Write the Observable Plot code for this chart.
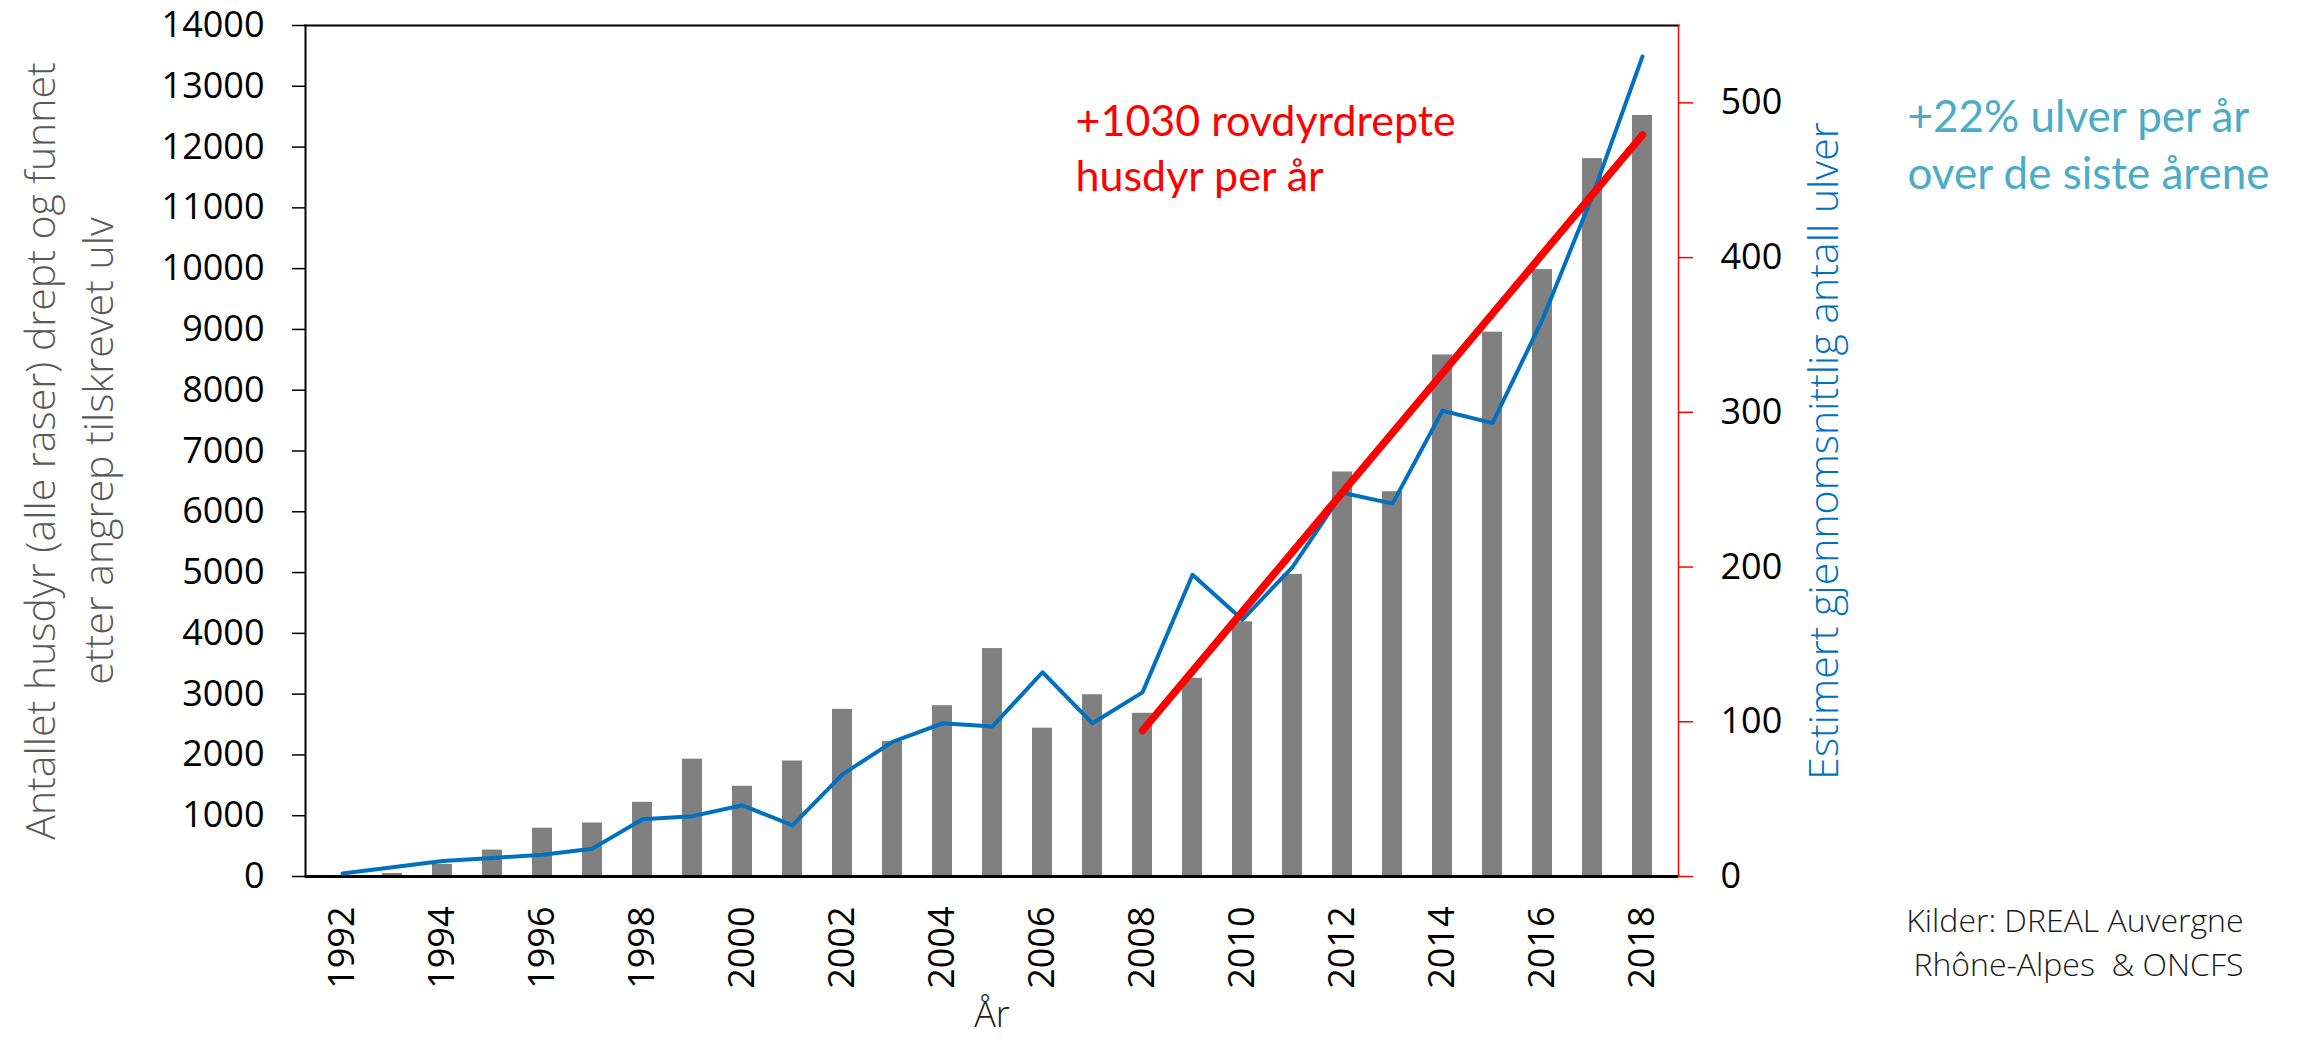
<!DOCTYPE html>
<html>
<head>
<meta charset="utf-8">
<script src="https://cdn.jsdelivr.net/npm/d3@7"></script>
<script src="https://cdn.jsdelivr.net/npm/@observablehq/plot@0.6"></script>
<style>
html, body { margin: 0; padding: 0; background: #fff; }
#chart { width: 2299px; height: 1043px; }
</style>
</head>
<body>
<div id="chart"></div>
<script>
// ---- Data ----
const years = [1992, 1993, 1994, 1995, 1996, 1997, 1998, 1999, 2000, 2001, 2002, 2003, 2004, 2005,
               2006, 2007, 2008, 2009, 2010, 2011, 2012, 2013, 2014, 2015, 2016, 2017, 2018];
// Livestock killed and attributed to wolf (left axis)
const livestockKilled = [0, 50, 200, 435, 795, 880, 1220, 1930, 1485, 1900, 2750, 2220, 2810, 3750,
                         2440, 2990, 2685, 3260, 4190, 4970, 6655, 6330, 8580, 8955, 9985, 11810, 12520];
// Estimated average number of wolves (right axis)
const wolves = [2, 6, 10, 12, 14, 18, 37, 39, 46, 33, 66, 87, 99, 97,
                132, 99, 119, 195, 166, 200, 248, 241, 301, 293, 360, 440, 530];
// Linear trend of livestock killed (left axis units)
const trendYears = [2008, 2018];
const trendValues = [2400, 12200];

const leftTicks = [0, 1000, 2000, 3000, 4000, 5000, 6000, 7000, 8000, 9000, 10000, 11000, 12000, 13000, 14000];
const rightTicks = [0, 100, 200, 300, 400, 500];
const xTickYears = [1992, 1994, 1996, 1998, 2000, 2002, 2004, 2006, 2008, 2010, 2012, 2014, 2016, 2018];

const leftMax = 14000;
const rightMax = 550;
const k = leftMax / rightMax;

const leftTitle = "Antallet husdyr (alle raser) drept og funnet\netter angrep tilskrevet ulv";
const rightTitle = "Estimert gjennomsnittlig antall ulver";
const xTitle = "År";
const redNote = "+1030 rovdyrdrepte\nhusdyr per år";
const tealNote = "+22% ulver per år\nover de siste årene";
const sourceNote = "Kilder: DREAL Auvergne\nRhône-Alpes  & ONCFS";

// ---- Tables built from the arrays ----
const bars = years.map((y, i) => ({year: y, value: livestockKilled[i]}));
const wolfData = years.map((y, i) => ({year: y, wolves: wolves[i]}));
const trend = trendYears.map((y, i) => ({year: y, value: trendValues[i]}));

const chart = Plot.plot({
  width: 2299,
  height: 1043,
  marginLeft: 305,
  marginRight: 621,
  marginTop: 25,
  marginBottom: 167,
  style: {fontFamily: "'Open Sans', sans-serif", fontSize: "36px", background: "#fff", color: "#000", overflow: "visible"},
  x: {type: "band", domain: years, paddingInner: 0.6, paddingOuter: 0.3, axis: null},
  y: {domain: [0, leftMax], axis: null},
  marks: [
    Plot.barY(bars, {x: "year", y: "value", fill: "#808080"}),
    Plot.frame({anchor: "left", stroke: "#000", strokeWidth: 2}),
    Plot.frame({anchor: "top", stroke: "#000", strokeWidth: 2}),
    Plot.frame({anchor: "right", stroke: "#ff0000", strokeWidth: 1.5}),
    Plot.ruleY([0], {stroke: "#000", strokeWidth: 3}),
    Plot.axisY(leftTicks, {anchor: "left", tickSize: 13, tickPadding: 28, label: null, tickFormat: d => String(d),
      stroke: "#000", fill: "#000", strokeWidth: 1.5}),
    Plot.axisY(rightTicks.map(v => v * k), {anchor: "right", tickSize: 14, tickPadding: 28, label: null,
      tickFormat: d => String(Math.round(d / k)), stroke: "#ff0000", fill: "#000", strokeWidth: 1.5}),
    Plot.axisX(xTickYears, {anchor: "bottom", tickSize: 0, tickPadding: 30, tickRotate: -90, label: null,
      tickFormat: d => String(d), fill: "#000"}),
    Plot.line(wolfData, {x: "year", y: d => d.wolves * k, stroke: "#0070C0", strokeWidth: 4, strokeLinejoin: "round"}),
    Plot.line(trend, {x: "year", y: "value", stroke: "#ff0000", strokeWidth: 7.5}),
    Plot.text([leftTitle], {text: d => d, frameAnchor: "left", dx: -240, rotate: -90, textAnchor: "middle", lineAnchor: "middle",
      fill: "#595959", fontSize: 41, fontWeight: 300, lineHeight: 1.41}),
    Plot.text([rightTitle], {text: d => d, frameAnchor: "right", dx: 146, rotate: -90, textAnchor: "middle", lineAnchor: "middle",
      fill: "#0070C0", fontSize: 41, fontWeight: 300}),
    Plot.text([xTitle], {text: d => d, frameAnchor: "bottom", dy: 150, lineAnchor: "bottom", fill: "#1a1a1a", fontSize: 36, fontWeight: 300}),
    Plot.text([redNote], {text: d => d, frameAnchor: "top-left", dx: 770, dy: 165, textAnchor: "start", lineAnchor: "bottom",
      fill: "#ff0000", fontFamily: "Lato, sans-serif", fontSize: 43, lineHeight: 55 / 43}),
    Plot.text([tealNote], {text: d => d, frameAnchor: "top-right", dx: 229, dy: 163, textAnchor: "start", lineAnchor: "bottom",
      fill: "#4BACC6", fontFamily: "Lato, sans-serif", fontSize: 44, lineHeight: 57 / 44}),
    Plot.text([sourceNote], {text: d => d, frameAnchor: "bottom-right", dx: 565, dy: 99, textAnchor: "end", lineAnchor: "bottom",
      fill: "#1a1a1a", fontSize: 32, fontWeight: 300, lineHeight: 44 / 32})
  ]
});

document.getElementById("chart").appendChild(chart);
</script>
</body>
</html>
